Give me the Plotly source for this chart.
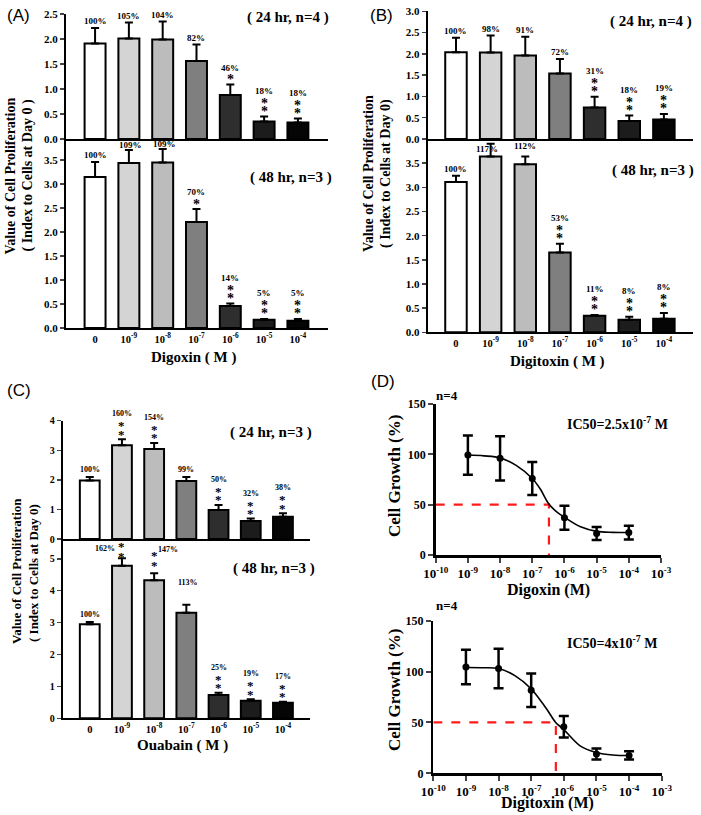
import plotly.graph_objects as go

W, H = 701, 815
SERIF = "Liberation Serif"
SANS = "Liberation Sans"

# ---------------- data ----------------
conc_labels = ["0", "10<sup>-9</sup>", "10<sup>-8</sup>", "10<sup>-7</sup>",
               "10<sup>-6</sup>", "10<sup>-5</sup>", "10<sup>-4</sup>"]

a24_mean = [1.91, 2.01, 1.99, 1.56, 0.88, 0.35, 0.33]
a24_err = [0.31, 0.32, 0.36, 0.33, 0.21, 0.10, 0.08]
a24_pct = ["100%", "105%", "104%", "82%", "46%", "18%", "18%"]
a24_stars = [0, 0, 0, 0, 1, 2, 2]
a48_mean = [3.15, 3.44, 3.45, 2.21, 0.46, 0.17, 0.15]
a48_err = [0.31, 0.27, 0.28, 0.27, 0.05, 0.02, 0.04]
a48_pct = ["100%", "109%", "109%", "70%", "14%", "5%", "5%"]
a48_stars = [0, 0, 0, 1, 2, 2, 2]

b24_mean = [2.04, 2.03, 1.96, 1.54, 0.74, 0.42, 0.46]
b24_err = [0.34, 0.40, 0.44, 0.34, 0.25, 0.13, 0.13]
b24_pct = ["100%", "98%", "91%", "72%", "31%", "18%", "19%"]
b24_stars = [0, 0, 0, 0, 2, 2, 2]
b48_mean = [3.11, 3.64, 3.48, 1.65, 0.34, 0.26, 0.28]
b48_err = [0.13, 0.26, 0.16, 0.18, 0.02, 0.06, 0.12]
b48_pct = ["100%", "117%", "112%", "53%", "11%", "8%", "8%"]
b48_stars = [0, 0, 0, 2, 2, 2, 2]

c24_mean = [1.98, 3.17, 3.04, 1.96, 0.98, 0.61, 0.75]
c24_err = [0.12, 0.20, 0.21, 0.14, 0.17, 0.08, 0.12]
c24_pct = ["100%", "160%", "154%", "99%", "50%", "32%", "38%"]
c24_stars = [0, 2, 2, 0, 2, 2, 2]
c48_mean = [2.95, 4.78, 4.33, 3.31, 0.73, 0.55, 0.49]
c48_err = [0.07, 0.24, 0.22, 0.25, 0.07, 0.05, 0.03]
c48_pct = ["100%", "162%", "147%", "113%", "25%", "19%", "17%"]
c48_stars = [0, 2, 2, 0, 2, 2, 2]

d_conc = [1e-9, 1e-8, 1e-7, 1e-6, 1e-5, 1e-4]
dg_mean = [99.3, 96.0, 76.0, 37.0, 21.3, 22.3]
dg_err = [19.5, 22.0, 16.5, 12.0, 6.5, 6.8]
dt_mean = [104.5, 103.0, 81.7, 45.7, 18.9, 17.6]
dt_err = [17.0, 19.5, 16.5, 10.6, 5.4, 4.0]

fit_log_conc = [-9, -8.5, -8, -7.5, -7, -6.75, -6.5, -6.25, -6, -5.5, -5, -4.5, -4]
dg_fit = [99.3, 98.5, 96.5, 89.0, 76.0, 65.5, 51.5, 43.0, 37.5, 28.0, 23.5, 22.5, 22.3]
dt_fit = [104.0, 103.8, 103.0, 96.0, 83.0, 73.0, 62.0, 50.0, 43.0, 27.0, 20.5, 18.0, 17.5]
dg_ic50_mark = 3.3e-7
dt_ic50_mark = 5.7e-7
d_xticks = [1e-10, 1e-9, 1e-8, 1e-7, 1e-6, 1e-5, 1e-4, 1e-3]
d_xticktext = ["10<sup>-10</sup>", "10<sup>-9</sup>", "10<sup>-8</sup>", "10<sup>-7</sup>",
               "10<sup>-6</sup>", "10<sup>-5</sup>", "10<sup>-4</sup>", "10<sup>-3</sup>"]

# ---------------- styles ----------------
bar_colors = ["#ffffff", "#d4d4d4", "#bcbcbc", "#7f7f7f", "#2e2e2e", "#1c1c1c", "#050505"]
STAR_ADJ = -2


def px_x(v):
    return v / W


def px_y(v):
    return 1 - v / H


fig = go.Figure()
annotations = []


def add_text(x, y, text, size, bold=True, family=SERIF, angle=0, xanchor="center", yanchor="middle"):
    annotations.append(dict(x=px_x(x), y=px_y(y), xref="paper", yref="paper", text=text,
                            showarrow=False, textangle=angle, xanchor=xanchor, yanchor=yanchor,
                            font=dict(family=family, size=size, color="black",
                                      weight="bold" if bold else "normal")))


def axkey(kind, idx):
    return f"{kind}axis" if idx == 1 else f"{kind}axis{idx}"


def ref(kind, idx):
    return kind if idx == 1 else f"{kind}{idx}"


def bar_panel(idx, xpx, ypx, xrange, yrange, yticks, means, errs, pcts, stars,
              show_x, pct_size=9, star_size=14, ytick_size=11, xtick_size=10.5,
              custom=None, width=0.62, tickfmt="{:.1f}"):
    fig.add_trace(go.Bar(
        x=conc_labels, y=means, width=width,
        marker=dict(color=bar_colors, line=dict(color="black", width=2)),
        error_y=dict(type="data", array=errs, arrayminus=[0] * len(errs), symmetric=False,
                     color="black", thickness=2, width=4),
        xaxis=ref("x", idx), yaxis=ref("y", idx), showlegend=False))
    fig.update_layout({
        axkey("x", idx): dict(domain=[px_x(xpx[0]), px_x(xpx[1])], range=xrange,
                              showline=True, linecolor="black", linewidth=2, ticks="",
                              showticklabels=show_x, showgrid=False, zeroline=False,
                              automargin=False,
                              tickfont=dict(family=SERIF, size=xtick_size, color="black", weight="bold"),
                              anchor=ref("y", idx), type="category"),
        axkey("y", idx): dict(domain=[px_y(ypx[1]), px_y(ypx[0])], range=yrange,
                              showline=True, linecolor="black", linewidth=2, ticks="outside",
                              ticklen=4, tickwidth=1.5, tickvals=yticks,
                              ticktext=[tickfmt.format(v) for v in yticks], showgrid=False,
                              zeroline=False, anchor=ref("x", idx), automargin=False,
                              tickfont=dict(family=SERIF, size=ytick_size, color="black", weight="bold")),
    })
    for i in range(len(means)):
        top = means[i] + errs[i]
        if custom and i in custom:
            c = custom[i]
            star_offs = c["stars"]
            pct_dx, pct_dy = c["pct"]
        else:
            star_offs = [7 + 8.5 * s for s in range(stars[i])]
            pct_dx = 0
            pct_dy = (star_offs[-1] + 10) if star_offs else 7
        for so in star_offs:
            annotations.append(dict(x=conc_labels[i], y=top, xref=ref("x", idx), yref=ref("y", idx),
                                    text="*", showarrow=False, yshift=so + STAR_ADJ,
                                    xanchor="center", yanchor="middle",
                                    font=dict(family=SERIF, size=star_size, color="black", weight="bold")))
        annotations.append(dict(x=conc_labels[i], y=top, xref=ref("x", idx), yref=ref("y", idx),
                                text=pcts[i], showarrow=False, yshift=pct_dy, xshift=pct_dx,
                                xanchor="center", yanchor="middle",
                                font=dict(family=SERIF, size=pct_size, color="black", weight="bold")))


# Panel A
a48_custom = {1: dict(stars=[], pct=(2, 5)), 2: dict(stars=[], pct=(2, 5))}
bar_panel(1, (66, 328), (14, 139), [-0.86, 6.89], [0, 2.5], [0, 0.5, 1.0, 1.5, 2.0, 2.5],
          a24_mean, a24_err, a24_pct, a24_stars, False)
bar_panel(2, (66, 328), (139, 328), [-0.86, 6.89], [0, 3.94], [0, 0.5, 1.0, 1.5, 2.0, 2.5, 3.0, 3.5],
          a48_mean, a48_err, a48_pct, a48_stars, True, custom=a48_custom)

# Panel B
b48_custom = {1: dict(stars=[], pct=(-4, -5)), 2: dict(stars=[], pct=(0, 10))}
bar_panel(3, (427.7, 693), (11.3, 139), [-0.816, 6.84], [0, 3.0], [0, 0.5, 1.0, 1.5, 2.0, 2.5, 3.0],
          b24_mean, b24_err, b24_pct, b24_stars, False)
bar_panel(4, (427.7, 693), (139, 332.3), [-0.816, 6.84], [0, 4.0], [0, 0.5, 1.0, 1.5, 2.0, 2.5, 3.0, 3.5],
          b48_mean, b48_err, b48_pct, b48_stars, True, custom=b48_custom)

# Panel C
bar_panel(5, (62.7, 310), (420.7, 539), [-0.84, 6.84], [0, 4.0], [0, 1, 2, 3, 4],
          c24_mean, c24_err, c24_pct, c24_stars, False, pct_size=8, star_size=13, ytick_size=10,
          width=0.615, tickfmt="{:.0f}")
c48_custom = {1: dict(stars=[3.3, 13.3], pct=(-17, 10)),
              2: dict(stars=[9.3, 20], pct=(14, 24)),
              3: dict(stars=[], pct=(2, 22))}
bar_panel(6, (62.7, 310), (539, 718.3), [-0.84, 6.84], [0, 5.62], [0, 1, 2, 3, 4, 5],
          c48_mean, c48_err, c48_pct, c48_stars, True, pct_size=8, star_size=13, ytick_size=10,
          custom=c48_custom, width=0.615, tickfmt="{:.0f}")


# Panel D
def dose_panel(idx, xpx, ypx, means, errs, fit, ic_mark):
    xr, yr = ref("x", idx), ref("y", idx)
    fig.add_trace(go.Scatter(x=[1e-10, ic_mark, ic_mark], y=[50, 50, 0], mode="lines",
                             line=dict(color="#ff1a1a", width=2.2, dash="dash"),
                             xaxis=xr, yaxis=yr, showlegend=False))
    fig.add_trace(go.Scatter(x=[10 ** v for v in fit_log_conc], y=fit, mode="lines",
                             line=dict(color="black", width=1.6, shape="spline"),
                             xaxis=xr, yaxis=yr, showlegend=False))
    fig.add_trace(go.Scatter(x=d_conc, y=means, mode="markers",
                             marker=dict(color="black", size=7),
                             error_y=dict(type="data", array=errs, color="black", thickness=2.5, width=5),
                             xaxis=xr, yaxis=yr, showlegend=False))
    fig.update_layout({
        axkey("x", idx): dict(domain=[px_x(xpx[0]), px_x(xpx[1])], type="log", range=[-10, -3],
                              tickvals=d_xticks, ticktext=d_xticktext, showline=True,
                              linecolor="black", linewidth=2.5, ticks="outside", ticklen=5,
                              tickwidth=2, showgrid=False, zeroline=False, anchor=yr,
                              automargin=False,
                              tickfont=dict(family=SERIF, size=13, color="black", weight="bold")),
        axkey("y", idx): dict(domain=[px_y(ypx[1]), px_y(ypx[0])], range=[0, 150],
                              tickvals=[0, 50, 100, 150], showline=True, linecolor="black",
                              linewidth=2.5, ticks="outside", ticklen=5, tickwidth=2,
                              showgrid=False, zeroline=False, anchor=xr, automargin=False,
                              tickfont=dict(family=SERIF, size=12, color="black", weight="bold")),
    })


dose_panel(7, (435.7, 661), (404, 555), dg_mean, dg_err, dg_fit, dg_ic50_mark)
dose_panel(8, (433.3, 661.7), (620.7, 773.3), dt_mean, dt_err, dt_fit, dt_ic50_mark)

# ---------------- text ----------------
add_text(18, 16, "(A)", 17, bold=False, family=SANS)
add_text(382, 16, "(B)", 17, bold=False, family=SANS)
add_text(19, 390, "(C)", 17, bold=False, family=SANS)
add_text(383, 381, "(D)", 17, bold=False, family=SANS)

add_text(288, 17.5, "( 24 hr, n=4 )", 15)
add_text(291, 178, "( 48 hr, n=3 )", 15)
add_text(651, 22, "( 24 hr, n=4 )", 15)
add_text(653, 170, "( 48 hr, n=3 )", 15)
add_text(271, 432, "( 24 hr, n=3 )", 15)
add_text(274, 568, "( 48 hr, n=3 )", 15)

add_text(10.5, 176, "Value of Cell Proliferation", 14, angle=-90)
add_text(27.5, 176, "( Index to Cells at Day 0 )", 14, angle=-90)
add_text(368, 174, "Value of Cell Proliferation", 14, angle=-90)
add_text(386, 174, "( Index to Cells at Day 0)", 14, angle=-90)
add_text(16, 571, "Value of Cell Proliferation", 13, angle=-90)
add_text(33, 573, "( Index to Cells at Day 0)", 13, angle=-90)

add_text(193.5, 357, "Digoxin ( M )", 15)
add_text(557, 361.5, "Digitoxin ( M )", 15)
add_text(183, 745.5, "Ouabain ( M )", 15)

add_text(395, 476, "Cell Growth (%)", 17, angle=-90)
add_text(394, 690, "Cell Growth (%)", 17, angle=-90)
add_text(548, 590, "Digoxin (M)", 16)
add_text(547, 803, "Digitoxin (M)", 16)
add_text(447, 395, "n=4", 13)
add_text(447, 605, "n=4", 13)
add_text(617, 423, "IC50=2.5x10<sup>-7</sup> M", 14)
add_text(612, 641.5, "IC50=4x10<sup>-7</sup> M", 14)

fig.update_layout(template="none", width=W, height=H, margin=dict(l=0, r=0, t=0, b=0, pad=0),
                  paper_bgcolor="white", plot_bgcolor="white", showlegend=False,
                  bargap=0, annotations=annotations)

fig.write_html("out.html", config={"displayModeBar": False, "staticPlot": True},
               post_script="document.body.style.margin='0';document.body.style.overflow='hidden';")
